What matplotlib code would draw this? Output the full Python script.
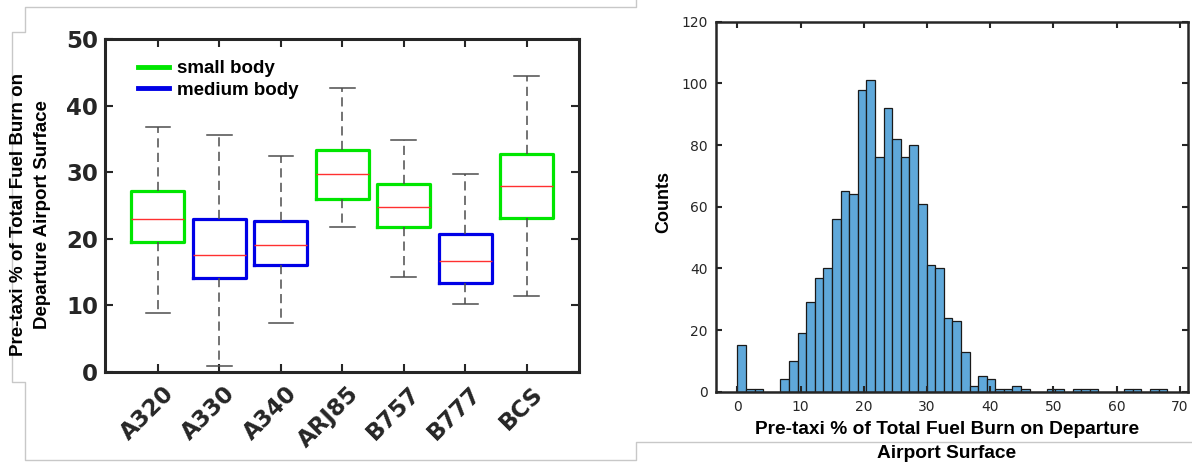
import numpy as np
import matplotlib
matplotlib.use("Agg")
import matplotlib.pyplot as plt
from matplotlib.lines import Line2D
from matplotlib.transforms import ScaledTranslation

# box plot data (pre-taxi % of fuel burn per aircraft type)
aircraft = ['A320', 'A330', 'A340', 'ARJ85', 'B757', 'B777', 'BCS']
body = ['small', 'medium', 'medium', 'small', 'small', 'medium', 'small']
whisker_low = [8.8, 0.9, 7.3, 21.8, 14.2, 10.2, 11.4]
q1 = [19.5, 14.1, 16.0, 26.0, 21.8, 13.3, 23.1]
median = [22.9, 17.6, 19.1, 29.8, 24.8, 16.7, 28.0]
q3 = [27.2, 23.0, 22.7, 33.4, 28.2, 20.7, 32.7]
whisker_high = [36.8, 35.6, 32.5, 42.6, 34.9, 29.8, 44.5]

# histogram data
bin_width = 1.36
counts = [15, 1, 1, 0, 0, 4, 10, 19, 29, 37,
          40, 56, 65, 64, 98, 101, 76, 92, 82, 76,
          80, 61, 41, 40, 24, 23, 13, 2, 5, 4,
          1, 1, 2, 1, 0, 0, 1, 1, 0, 1,
          1, 1, 0, 0, 0, 1, 1, 0, 1, 1]

body_colors = {'small': '#00e600', 'medium': '#0000e6'}
axis_color = '#262626'
W, H = 1192, 465

fig = plt.figure(figsize=(W / 100, H / 100), dpi=100)

# panel frame lines (pixel coords of the original composite)
frame = [(636, 0), (636, 7), (25, 7), (25, 32), (12, 32), (12, 382), (25, 382),
         (25, 460), (636, 460), (636, 442), (1192, 442)]
fx = [p[0] / W for p in frame]
fy = [1 - p[1] / H for p in frame]
fig.add_artist(Line2D(fx, fy, color='#c8c8c8', lw=1, transform=fig.transFigure, zorder=0))

# ---------------- left: box plot ----------------
ax1 = fig.add_axes([105 / W, 1 - 372 / H, 474 / W, 333 / H])
stats = []
for i in range(len(aircraft)):
    stats.append(dict(label=aircraft[i], whislo=whisker_low[i], q1=q1[i], med=median[i],
                      q3=q3[i], whishi=whisker_high[i], fliers=[]))
positions = np.arange(1, len(aircraft) + 1)
bp = ax1.bxp(stats, positions=positions, widths=0.86, showfliers=False,
             boxprops=dict(linewidth=2.3),
             whiskerprops=dict(color='#4d4d4d', linewidth=1.1, linestyle=(0, (6, 3.5))),
             capprops=dict(color='#4d4d4d', linewidth=1.1),
             medianprops=dict(color='#ff3030', linewidth=1.0),
             capwidths=0.4)
for box, b in zip(bp['boxes'], body):
    box.set_color(body_colors[b])

ax1.set_xlim(0.14, 7.85)
ax1.set_ylim(0, 50)
ax1.set_yticks(range(0, 51, 10))
ax1.set_xticks(positions)
ax1.set_xticklabels(aircraft, rotation=45, ha='right', va='top', rotation_mode='anchor')
ax1.tick_params(direction='in', length=6, width=1.5, colors=axis_color, labelsize=16.5,
                top=True, right=True, pad=5)
shift = ScaledTranslation(0.045, -0.03, fig.dpi_scale_trans)
for lab in ax1.get_xticklabels():
    lab.set_transform(lab.get_transform() + shift)
for lab in ax1.get_xticklabels() + ax1.get_yticklabels():
    lab.set_fontweight('bold')
for s in ax1.spines.values():
    s.set_linewidth(2.2)
    s.set_color(axis_color)
ax1.set_ylabel('Pre-taxi % of Total Fuel Burn on\nDeparture Airport Surface',
               family='Liberation Sans', fontweight='bold', fontsize=13.5,
               va='center', linespacing=1.6)
ax1.yaxis.set_label_coords(-0.157, 0.474)

handles = [Line2D([], [], color=body_colors['small'], lw=3.5),
           Line2D([], [], color=body_colors['medium'], lw=3.5)]
ax1.legend(handles, ['small body', 'medium body'], loc='upper left',
           bbox_to_anchor=(0.05, 0.965), frameon=False, borderpad=0,
           handlelength=1.65, handletextpad=0.45, labelspacing=0.25,
           prop=dict(family='Liberation Sans', weight='bold', size=13.5))

# ---------------- right: histogram ----------------
ax2 = fig.add_axes([716 / W, 1 - 391.7 / H, 472 / W, 370 / H])
edges = np.arange(len(counts) + 1) * bin_width
ax2.hist(edges[:-1], bins=edges, weights=counts, color='#5fa8da',
         edgecolor='#1a1a1a', linewidth=0.9)
ax2.set_xlim(-3.4, 71.3)
ax2.set_ylim(0, 120)
ax2.set_xticks(range(0, 71, 10))
ax2.set_yticks(range(0, 121, 20))
ax2.tick_params(direction='in', length=4.5, width=1.5, colors=axis_color, labelsize=10,
                top=True, right=True, pad=6)
for s in ax2.spines.values():
    s.set_linewidth(1.8)
    s.set_color(axis_color)
ax2.set_ylabel('Counts', family='Liberation Sans', fontweight='bold', fontsize=13,
               va='center')
ax2.yaxis.set_label_coords(-0.11, 0.513)
ax2.set_xlabel('Pre-taxi % of Total Fuel Burn on Departure\nAirport Surface',
               family='Liberation Sans', fontweight='bold', fontsize=13.8,
               va='top', linespacing=1.6)
ax2.xaxis.set_label_coords(0.489, -0.078)

fig.savefig('out.png', dpi=100)
